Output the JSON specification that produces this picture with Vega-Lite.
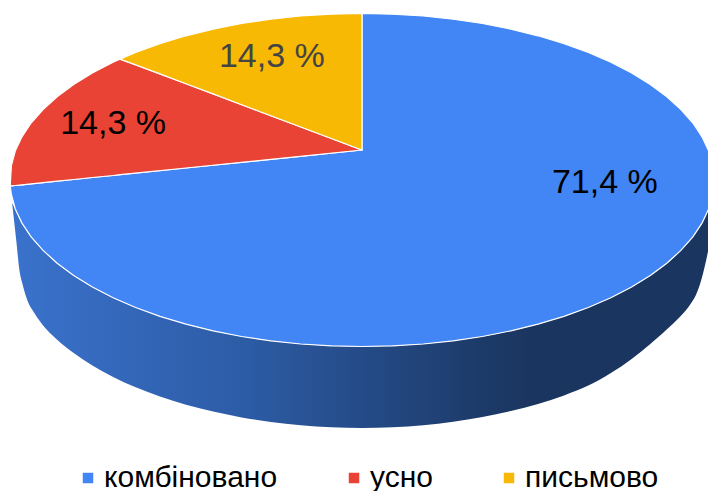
{"$schema":"https://vega.github.io/schema/vega-lite/v6.json","width":708,"height":491,"padding":0,"autosize":{"type":"fit","contains":"padding"},"background":"white","view":{"stroke":null},
"config":{"font":"Liberation Sans"},
"layer":[
{"data":{"values":[
{"across":-99.4,"top":-13.8,"outer":-13.8},{"across":-98.3,"top":-18.4,"outer":-34.8},{"across":-97.2,"top":-23.5,"outer":-55.9},{"across":-96.6,"top":-25.9,"outer":-61.3},{"across":-95.2,"top":-30.6,"outer":-71.5},{"across":-92.9,"top":-37,"outer":-80.5},{"across":-90.6,"top":-42.3,"outer":-87.4},{"across":-86.6,"top":-50,"outer":-95.9},{"across":-81.9,"top":-57.4,"outer":-103.9},{"across":-76.6,"top":-64.3,"outer":-111.4},{"across":-70.7,"top":-70.7,"outer":-118.3},{"across":-64.3,"top":-76.6,"outer":-124.5},{"across":-57.4,"top":-81.9,"outer":-130},{"across":-50,"top":-86.6,"outer":-135},{"across":-42.3,"top":-90.6,"outer":-139.1},{"across":-34.2,"top":-94,"outer":-142.6},{"across":-25.9,"top":-96.6,"outer":-145.3},{"across":-17.4,"top":-98.5,"outer":-147.3},{"across":-8.7,"top":-99.6,"outer":-148.5},{"across":0,"top":-100,"outer":-148.9},{"across":8.7,"top":-99.6,"outer":-148.5},{"across":17.4,"top":-98.5,"outer":-147.3},{"across":25.9,"top":-96.6,"outer":-145.2},{"across":34.2,"top":-94,"outer":-142.4},{"across":42.3,"top":-90.6,"outer":-138.8},{"across":50,"top":-86.6,"outer":-134.5},{"across":57.4,"top":-81.9,"outer":-129.4},{"across":64.3,"top":-76.6,"outer":-123.5},{"across":70.7,"top":-70.7,"outer":-116},{"across":76.6,"top":-64.3,"outer":-107.5},{"across":81.9,"top":-57.4,"outer":-98.5},{"across":85.5,"top":-51.9,"outer":-91.9},{"across":89.5,"top":-44.6,"outer":-84},{"across":93.2,"top":-36.2,"outer":-75},{"across":94.9,"top":-31.5,"outer":-69},{"across":96.3,"top":-26.9,"outer":-60.7},{"across":97.4,"top":-22.7,"outer":-51.7},{"across":98.3,"top":-18.4,"outer":-43}
]},
"mark":{"type":"area","interpolate":"monotone","color":{"gradient":"linear","x1":0,"x2":1,"y1":0,"y2":0,"stops":[{"offset":0,"color":"#3a72cc"},{"offset":0.33,"color":"#2d5ca6"},{"offset":0.68,"color":"#1c3a68"},{"offset":0.75,"color":"#1a355f"},{"offset":1,"color":"#1a355f"}]}},
"encoding":{"x":{"field":"across","type":"quantitative","scale":{"domain":[-102.84,98.3],"nice":false,"zero":false},"axis":null},"y":{"field":"top","type":"quantitative","scale":{"domain":[-186.8,108.1],"nice":false,"zero":false},"axis":null},"y2":{"field":"outer"}}},
{"data":{"values":[
{"slice":"комбіновано","across":-99.94,"top":-3.6,"low":-3.6},{"slice":"комбіновано","across":-99.6,"top":-3.5,"low":-8.7},{"slice":"комбіновано","across":-98.5,"top":-3.3,"low":-17.4},{"slice":"комбіновано","across":-96.6,"top":-2.9,"low":-25.9},{"slice":"комбіновано","across":-94,"top":-2.3,"low":-34.2},{"slice":"комбіновано","across":-90.6,"top":-1.6,"low":-42.3},{"slice":"комбіновано","across":-86.6,"top":-0.7,"low":-50},{"slice":"комбіновано","across":-81.9,"top":0.3,"low":-57.4},{"slice":"комбіновано","across":-76.6,"top":1.5,"low":-64.3},{"slice":"комбіновано","across":-70.7,"top":2.7,"low":-70.7},{"slice":"комбіновано","across":-64.3,"top":4.1,"low":-76.6},{"slice":"комбіновано","across":-57.4,"top":5.6,"low":-81.9},{"slice":"комбіновано","across":-50,"top":7.2,"low":-86.6},{"slice":"комбіновано","across":-42.3,"top":8.9,"low":-90.6},{"slice":"комбіновано","across":-34.2,"top":10.6,"low":-94},{"slice":"комбіновано","across":-25.9,"top":12.4,"low":-96.6},{"slice":"комбіновано","across":-17.4,"top":14.2,"low":-98.5},{"slice":"комбіновано","across":-8.7,"top":16.1,"low":-99.6},{"slice":"комбіновано","across":0,"top":18,"low":-100},{"slice":"комбіновано","across":0.01,"top":100,"low":-100},{"slice":"комбіновано","across":8.7,"top":99.6,"low":-99.6},{"slice":"комбіновано","across":17.4,"top":98.5,"low":-98.5},{"slice":"комбіновано","across":25.9,"top":96.6,"low":-96.6},{"slice":"комбіновано","across":34.2,"top":94,"low":-94},{"slice":"комбіновано","across":42.3,"top":90.6,"low":-90.6},{"slice":"комбіновано","across":50,"top":86.6,"low":-86.6},{"slice":"комбіновано","across":57.4,"top":81.9,"low":-81.9},{"slice":"комбіновано","across":64.3,"top":76.6,"low":-76.6},{"slice":"комбіновано","across":70.7,"top":70.7,"low":-70.7},{"slice":"комбіновано","across":76.6,"top":64.3,"low":-64.3},{"slice":"комбіновано","across":81.9,"top":57.4,"low":-57.4},{"slice":"комбіновано","across":86.6,"top":50,"low":-50},{"slice":"комбіновано","across":90.6,"top":42.3,"low":-42.3},{"slice":"комбіновано","across":94,"top":34.2,"low":-34.2},{"slice":"комбіновано","across":96.6,"top":25.9,"low":-25.9},{"slice":"комбіновано","across":98.5,"top":17.4,"low":-17.4},{"slice":"комбіновано","across":99.6,"top":8.7,"low":-8.7},{"slice":"комбіновано","across":100,"top":0,"low":0},
{"slice":"усно","across":-99.94,"top":-3.6,"low":-3.6},{"slice":"усно","across":-99.6,"top":8.7,"low":-3.5},{"slice":"усно","across":-98.5,"top":17.4,"low":-3.3},{"slice":"усно","across":-96.6,"top":25.9,"low":-2.9},{"slice":"усно","across":-94,"top":34.2,"low":-2.3},{"slice":"усно","across":-90.6,"top":42.3,"low":-1.6},{"slice":"усно","across":-86.6,"top":50,"low":-0.7},{"slice":"усно","across":-81.9,"top":57.4,"low":0.3},{"slice":"усно","across":-76.6,"top":64.3,"low":1.5},{"slice":"усно","across":-70.7,"top":70.7,"low":2.7},{"slice":"усно","across":-68.75,"top":72.6,"low":3.2},{"slice":"усно","across":-50,"top":57.8,"low":7.2},{"slice":"усно","across":-25.9,"top":38.6,"low":12.4},{"slice":"усно","across":0,"top":18,"low":18},
{"slice":"письмово","across":-68.75,"top":72.6,"low":72.6},{"slice":"письмово","across":-64.3,"top":76.6,"low":69.2},{"slice":"письмово","across":-57.4,"top":81.9,"low":63.7},{"slice":"письмово","across":-50,"top":86.6,"low":57.8},{"slice":"письмово","across":-42.3,"top":90.6,"low":51.7},{"slice":"письмово","across":-34.2,"top":94,"low":45.2},{"slice":"письмово","across":-25.9,"top":96.6,"low":38.6},{"slice":"письмово","across":-17.4,"top":98.5,"low":31.8},{"slice":"письмово","across":-8.7,"top":99.6,"low":24.9},{"slice":"письмово","across":0,"top":100,"low":18}
]},
"mark":{"type":"area","stroke":"white","strokeWidth":1.2,"clip":true},
"encoding":{"x":{"field":"across","type":"quantitative","axis":null},"y":{"field":"top","type":"quantitative","axis":null},"y2":{"field":"low"},
"color":{"field":"slice","type":"nominal","sort":["комбіновано","усно","письмово"],"scale":{"domain":["комбіновано","усно","письмово"],"range":["#4285f4","#e94335","#f8b904"]},
"legend":{"title":null,"orient":"none","legendX":73,"legendY":463,"direction":"horizontal","columns":3,"columnPadding":61,"symbolType":"square","symbolSize":110,"symbolStrokeWidth":0,"labelOffset":1,"labelFontSize":30,"labelFont":"Liberation Sans","labelLimit":400,"encode":{"labels":{"update":{"fill":[{"test":"datum.value==='письмово'","value":"#757575"},{"value":"#000000"}]}}}}}}},
{"data":{"values":[{"slice":"комбіновано","share":"71,4 %","across":69,"depth":-1.8},{"slice":"усно","share":"14,3 %","across":-70.7,"depth":33.6},{"slice":"письмово","share":"14,3 %","across":-25.6,"depth":73.9}]},
"mark":{"type":"text","font":"Liberation Sans","fontSize":34,"align":"center","baseline":"middle"},
"encoding":{"x":{"field":"across","type":"quantitative","axis":null},"y":{"field":"depth","type":"quantitative","axis":null},"text":{"field":"share"},"color":{"condition":{"test":"datum.slice==='письмово'","value":"#444444"},"value":"#000000"}}}
]}
